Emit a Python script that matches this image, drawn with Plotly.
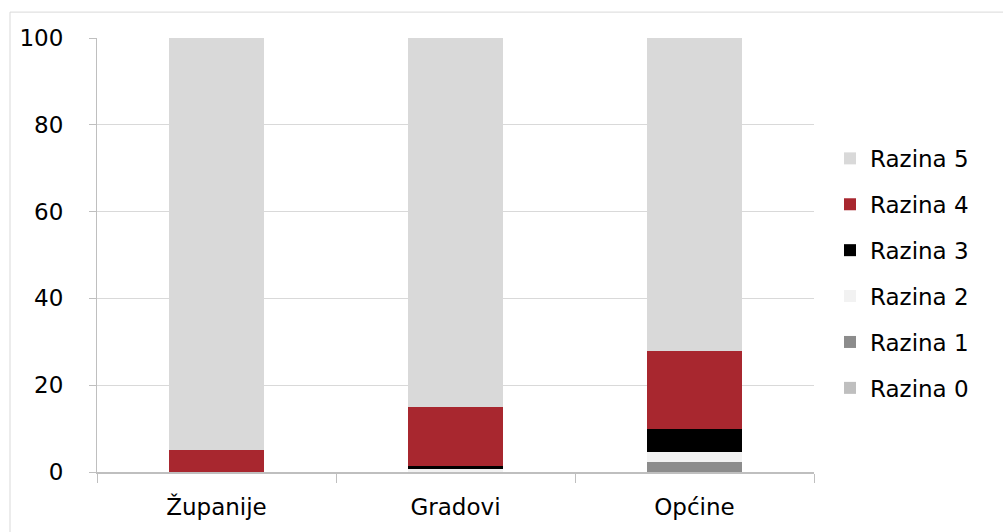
import plotly.graph_objects as go

categories = ["Županije", "Gradovi", "Općine"]
series_names = ["Razina 0", "Razina 1", "Razina 2", "Razina 3", "Razina 4", "Razina 5"]
razina_0 = [0, 0, 0]
razina_1 = [0, 0, 2.2]
razina_2 = [0, 0.6, 2.3]
razina_3 = [0, 0.7, 5.3]
razina_4 = [5.0, 13.6, 18.1]
razina_5 = [95.0, 85.1, 72.1]
series_values = [razina_0, razina_1, razina_2, razina_3, razina_4, razina_5]
colors = ["#bfbfbf", "#8c8c8c", "#f2f2f2", "#000000", "#a8272f", "#d9d9d9"]
y_ticks = [0, 20, 40, 60, 80, 100]

FONT = "DejaVu Sans"
fig = go.Figure()
for i, (name, vals, col) in enumerate(zip(series_names, series_values, colors)):
    fig.add_trace(go.Bar(
        x=categories, y=vals, name=name, marker=dict(color=col, line=dict(width=0)),
        legendgroup=name, legendrank=100 - i,
    ))

W, H = 1003, 532
L, R, T, B = 97, 189, 38, 58
pw, ph = W - L - R, H - T - B

fig.update_layout(
    width=W, height=H,
    barmode="stack", bargap=0.6,
    margin=dict(l=L, r=R, t=T, b=B),
    paper_bgcolor="white", plot_bgcolor="white",
    font=dict(family=FONT, size=23, color="#000000"),
    legend=dict(
        traceorder="grouped", tracegroupgap=13,
        x=(830 - L) / pw, xanchor="left", y=(474 - 274.5) / ph, yanchor="middle",
        font=dict(family=FONT, size=23, color="#000000"),
        itemwidth=30,
    ),
    xaxis=dict(
        showline=True, linecolor="#bfbfbf", linewidth=1.5,
        ticks="outside", tickson="boundaries", ticklen=9, tickcolor="#bfbfbf",
        tickfont=dict(size=23), showgrid=False, ticklabelstandoff=14,
    ),
    yaxis=dict(
        range=[0, 100], tickvals=y_ticks, showgrid=True, gridcolor="#d9d9d9", gridwidth=1,
        showline=True, linecolor="#bfbfbf", linewidth=1,
        ticks="outside", ticklen=7, tickcolor="#bfbfbf",
        tickfont=dict(size=23), zeroline=False, ticklabelstandoff=21,
    ),
    shapes=[dict(
        type="rect", xref="paper", yref="paper",
        x0=(10 - L) / pw, x1=(W + 20 - L) / pw,
        y0=-(H + 20 - (H - B)) / ph, y1=((H - B) - 12) / ph,
        line=dict(color="#d9d9d9", width=1), fillcolor="rgba(0,0,0,0)", layer="below",
    )],
)

fig.write_html("out.html", config={"displayModeBar": False},
               post_script="document.body.style.margin='0';")
